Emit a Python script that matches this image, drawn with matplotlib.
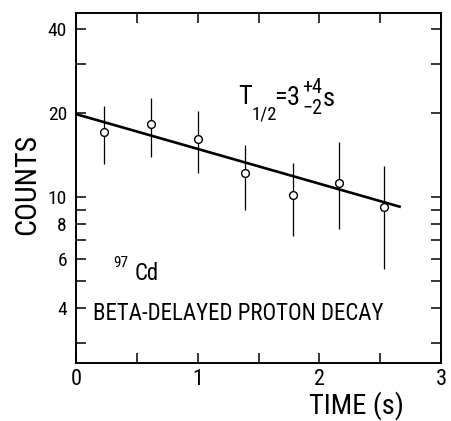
import os
import matplotlib
matplotlib.use("Agg")
import matplotlib.pyplot as plt
from matplotlib.ticker import FixedLocator, FixedFormatter, NullFormatter
from matplotlib import font_manager
from matplotlib.font_manager import FontProperties

# Decay curve of 97Cd, beta-delayed protons
time_s = [0.23, 0.62, 1.00, 1.39, 1.78, 2.16, 2.53]
counts = [17.1, 18.2, 16.1, 12.2, 10.2, 11.2, 9.2]
counts_hi = [21.1, 22.7, 20.3, 15.4, 13.2, 15.7, 12.9]
counts_lo = [13.1, 13.9, 12.2, 8.96, 7.23, 7.7, 5.5]

# fitted exponential, given by its end points
fit_time = [0.0, 2.67]
fit_counts = [19.8, 9.2]

x_major = [0, 1, 2, 3]
x_minor = [0.5, 1.5, 2.5]
y_major = [4, 6, 8, 10, 20, 40]
y_major_labels = ["4", "6", "8", "10", "20", "40"]
y_minor = [3, 5, 7, 9, 30]


def narrow_face():
    """Path of an upright, regular-weight narrow sans face, if one is installed."""
    prefs = ["liberation sans narrow", "liberationsansnarrow", "roboto condensed",
             "robotocondensed", "dejavu sans condensed", "dejavusanscondensed",
             "noto sans condensed", "notosans-condensed", "open sans condensed",
             "opensans-condensed", "condensed", "narrow"]
    faces = []
    for f in font_manager.fontManager.ttflist:
        txt = (f.name + " " + os.path.basename(f.fname)).lower()
        if "serif" in txt or "mono" in txt or "extra" in txt or "ultra" in txt:
            continue
        if f.style != "normal" or f.weight not in (400, "normal", "regular"):
            continue
        faces.append((txt, f.fname))
    for p in prefs:
        for txt, path in faces:
            if p in txt:
                return path
    for f in font_manager.fontManager.ttflist:
        if f.name == "Roboto" and f.style == "normal" and f.weight in (400, "normal"):
            return f.fname
    return None


FACE = narrow_face()


def fp(size):
    if FACE:
        return FontProperties(fname=FACE, size=size)
    return FontProperties(family="DejaVu Sans", size=size)


fig = plt.figure(figsize=(4.51, 4.21), dpi=100)
ax = fig.add_axes([76 / 451, 1 - 363 / 421, 365 / 451, 350 / 421])

ax.set_yscale("log")
ax.set_xlim(0, 3)
ax.set_ylim(2.54, 45.6)

yerr = [[c - lo for c, lo in zip(counts, counts_lo)],
        [hi - c for c, hi in zip(counts, counts_hi)]]
ax.errorbar(time_s, counts, yerr=yerr, fmt="o", color="black", ecolor="black",
            elinewidth=0.9, capsize=0, markersize=5.6, markerfacecolor="white",
            markeredgecolor="black", markeredgewidth=1.0, zorder=3)
ax.plot(fit_time, fit_counts, color="black", lw=1.9, solid_capstyle="butt", zorder=2)

ax.xaxis.set_major_locator(FixedLocator(x_major))
ax.xaxis.set_minor_locator(FixedLocator(x_minor))
ax.xaxis.set_minor_formatter(NullFormatter())
ax.yaxis.set_major_locator(FixedLocator(y_major))
ax.yaxis.set_major_formatter(FixedFormatter(y_major_labels))
ax.yaxis.set_minor_locator(FixedLocator(y_minor))
ax.yaxis.set_minor_formatter(NullFormatter())

for which in ("major", "minor"):
    ax.tick_params(axis="both", which=which, direction="in", length=7.5, width=1.1,
                   top=True, right=True, color="black")
ax.tick_params(axis="x", which="major", pad=4.5)
ax.tick_params(axis="y", which="major", pad=6.5)
for lab in ax.get_xticklabels():
    lab.set_fontproperties(fp(16))
for lab in ax.get_yticklabels():
    lab.set_fontproperties(fp(14))
for s in ax.spines.values():
    s.set_linewidth(1.4)

fig.text(27 / 451, 1 - 184 / 421, "COUNTS", rotation=90, ha="center", va="center",
         fontproperties=fp(21.5))
fig.text(356 / 451, 1 - 406 / 421, "TIME (s)", ha="center", va="center",
         fontproperties=fp(20.5))

# half-life label, assembled from its pieces (offsets in points from the "T")
t_anchor = (1.331, 21.5)
half_life_parts = [
    ("T", 0.0, 0.0, 19),
    ("1/2", 9.5, -10.8, 13.5),
    ("=", 26.0, 0.0, 19),
    ("3", 35.5, -0.7, 19),
    ("+4", 46.5, 7.9, 14.5),
    ("\u22122", 46.5, -6.8, 14.5),
    ("s", 61.0, -1.0, 19),
]
for txt, dx, dy, size in half_life_parts:
    ax.annotate(txt, xy=t_anchor, xycoords="data", xytext=(dx, dy),
                textcoords="offset points", ha="left", va="baseline",
                fontproperties=fp(size))

ax.text(0.31, 5.61, "97", ha="left", va="baseline", fontproperties=fp(11))
ax.text(0.485, 5.04, "Cd", ha="left", va="baseline", fontproperties=fp(16.5))
ax.text(0.14, 3.62, "BETA-DELAYED PROTON DECAY", ha="left", va="baseline",
        fontproperties=fp(16.5))

fig.savefig("out.png", dpi=100, facecolor="white")
